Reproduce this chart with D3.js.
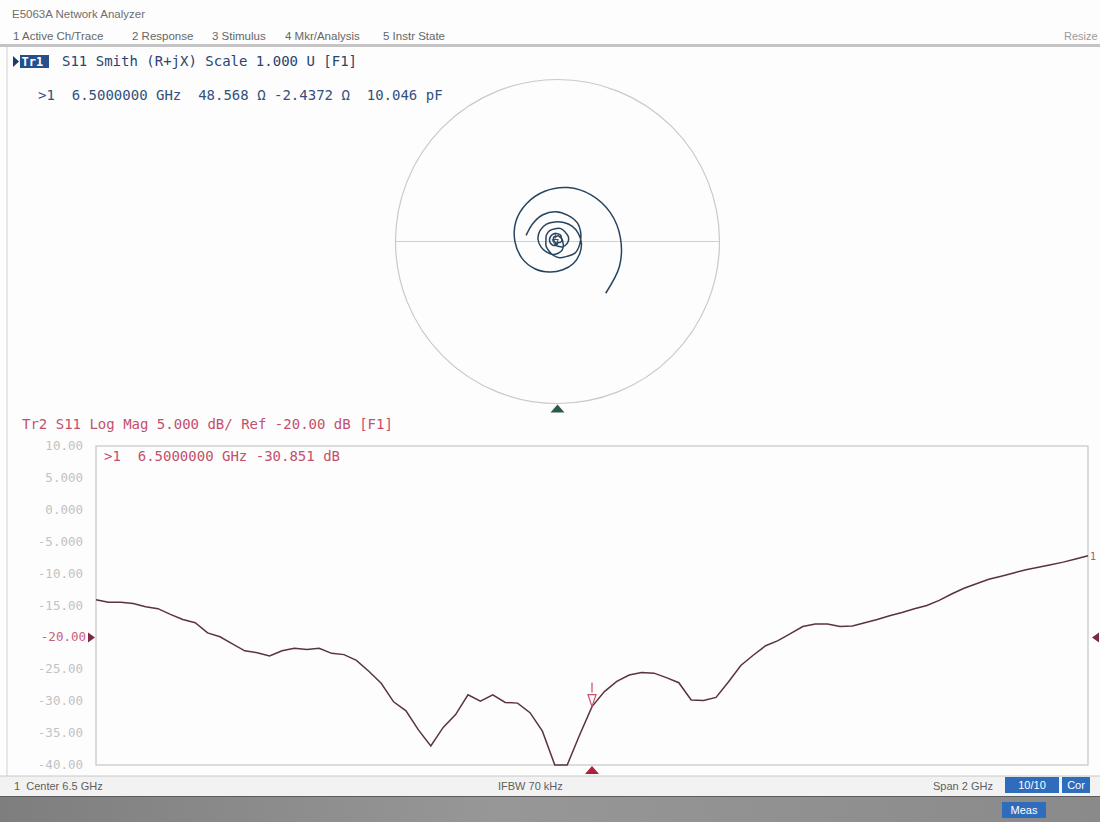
<!DOCTYPE html>
<html>
<head>
<meta charset="utf-8">
<script src="https://cdn.jsdelivr.net/npm/d3@7"></script>
<style>
body{margin:0;background:#fff;}
svg{display:block;}
text{white-space:pre;}
.mono{font-family:"DejaVu Sans Mono",monospace;}
.sans{font-family:"Liberation Sans",Arial,sans-serif;}
</style>
</head>
<body>
<div id="container"></div>
<script>
// sweep points, GHz (center 6.5, span 2)
var freqGHz = [5.500,5.525,5.550,5.575,5.600,5.625,5.650,5.675,5.700,5.725,
	5.750,5.775,5.800,5.825,5.850,5.875,5.900,5.925,5.950,5.975,
	6.000,6.025,6.050,6.075,6.100,6.125,6.150,6.175,6.200,6.225,
	6.250,6.275,6.300,6.325,6.350,6.375,6.400,6.425,6.450,6.475,
	6.500,6.525,6.550,6.575,6.600,6.625,6.650,6.675,6.700,6.725,
	6.750,6.775,6.800,6.825,6.850,6.875,6.900,6.925,6.950,6.975,
	7.000,7.025,7.050,7.075,7.100,7.125,7.150,7.175,7.200,7.225,
	7.250,7.275,7.300,7.325,7.350,7.375,7.400,7.425,7.450,7.475,7.500];

// S11 log mag (dB)
var s11LogMag = [-14.1,-14.5,-14.5,-14.7,-15.2,-15.5,-16.4,-17.2,-17.7,-19.3,
	-19.9,-21.0,-22.1,-22.4,-22.9,-22.1,-21.7,-21.9,-21.7,-22.5,
	-22.7,-23.6,-25.3,-27.2,-30.1,-31.5,-34.5,-37.0,-34.1,-32.1,
	-29.0,-30.0,-29.0,-30.2,-30.3,-31.8,-34.7,-40.5,-44.0,-35.3,
	-30.85,-28.5,-26.9,-25.9,-25.5,-25.6,-26.3,-27.1,-29.8,-29.9,
	-29.4,-27.0,-24.4,-22.8,-21.3,-20.5,-19.4,-18.3,-17.9,-17.9,
	-18.3,-18.2,-17.7,-17.2,-16.6,-16.1,-15.5,-15.0,-14.2,-13.2,
	-12.3,-11.6,-10.9,-10.4,-9.9,-9.4,-9.0,-8.6,-8.2,-7.7,-7.2];

// S11 phase (deg)
var s11PhaseDeg = [169.0,143.8,118.6,93.4,68.2,43.0,17.8,-7.4,-32.6,-57.8,
	-83.0,-108.2,-133.4,-158.6,176.2,151.0,125.8,100.6,75.4,50.2,
	25.0,-0.2,-25.4,-50.6,-75.8,-101.0,-126.2,-151.4,-176.6,158.2,
	133.0,107.8,82.6,57.4,32.2,7.0,-18.2,-43.4,-68.6,-93.8,
	-119.0,-144.2,-169.4,165.4,140.2,115.0,89.8,64.6,39.4,14.2,
	-11.0,-36.2,-61.4,-86.6,-111.8,-137.0,-162.2,172.6,147.4,122.2,
	97.0,71.8,46.6,21.4,-3.8,-29.0,-54.2,-79.4,-104.6,-129.8,
	-155.0,179.8,154.6,129.4,104.2,79.0,53.8,28.6,3.4,-21.8,-47.0];

var magTicks = [10,5,0,-5,-10,-15,-20,-25,-30,-35,-40];
var magTickLabels = ['10.00','5.000','0.000','-5.000','-10.00','-15.00','-20.00','-25.00','-30.00','-35.00','-40.00'];
var refLevel = -20;

var menuItems = ['1 Active Ch/Trace','2 Response','3 Stimulus','4 Mkr/Analysis','5 Instr State'];
var menuX = [13,132,212,285,383];

var markerFreq = 6.5;
var smithMarkerText = '>1  6.5000000 GHz  48.568 Ω -2.4372 Ω  10.046 pF';
var logMarkerText = '>1  6.5000000 GHz -30.851 dB';

var init = function(){

	return {

		w:1100,
		h:822,

		pts:[],

		processData:function(){
			var self = vis;
			freqGHz.forEach(function(f,i){
				var lin = Math.pow(10, s11LogMag[i]/20),
					ph = s11PhaseDeg[i]*Math.PI/180;
				self.pts.push({f:f, db:s11LogMag[i], re:lin*Math.cos(ph), im:lin*Math.sin(ph)});
			});
			self.generate();
		},
		generate:function(){
			var self = vis;
			self.svg = d3.select('#container').append('svg')
				.attr('width',self.w)
				.attr('height',self.h);
			self.svg.append('rect').attr('width',self.w).attr('height',self.h).attr('fill','#fdfdfd');

			self.drawFrame();
			self.drawSmith();
			self.drawLogMag();
			self.drawStatus();
		},
		drawFrame:function(){
			var svg = vis.svg;

			svg.append('text').attr('class','sans')
				.attr('x',12).attr('y',18)
				.style('font-size','11.5px').attr('fill','#6e6e6e')
				.text('E5063A Network Analyzer');

			svg.selectAll('text.menu')
				.data(menuItems)
				.enter().append('text')
				.attr('class','menu sans')
				.attr('x',function(d,i){ return menuX[i]; })
				.attr('y',40)
				.style('font-size','11.5px')
				.attr('fill','#666')
				.text(function(d){ return d; });

			svg.append('text').attr('class','sans')
				.attr('x',1064).attr('y',40)
				.style('font-size','11px').attr('fill','#9a9a9a')
				.text('Resize');

			svg.append('rect').attr('x',0).attr('y',44).attr('width',vis.w).attr('height',3).attr('fill','#c4c4c4');
			svg.append('line').attr('x1',7).attr('x2',7).attr('y1',47).attr('y2',776)
				.attr('stroke','#d2d2d2');
		},
		drawSmith:function(){
			var svg = vis.svg;
			var cx = 557.5, cy = 241.5, r = 162;

			var x = d3.scaleLinear().domain([-1,1]).range([cx-r, cx+r]),
				y = d3.scaleLinear().domain([-1,1]).range([cy+r, cy-r]);

			// title
			svg.append('path').attr('d','M13,56 L19,61.5 L13,67 Z').attr('fill','#1f3a6a');
			svg.append('rect').attr('x',20).attr('y',55).attr('width',29).attr('height',13).attr('fill','#24508e');
			svg.append('text').attr('class','mono').attr('x',21.5).attr('y',66)
				.style('font-size','12px').style('font-weight','bold').attr('fill','#fff').text('Tr1');
			svg.append('text').attr('class','mono').attr('x',62).attr('y',66)
				.style('font-size','14px').attr('fill','#2a4470')
				.text('S11 Smith (R+jX) Scale 1.000 U [F1]');
			svg.append('text').attr('class','mono').attr('x',38).attr('y',100)
				.style('font-size','14px').attr('fill','#34507e')
				.text(smithMarkerText);

			// unit circle + real axis
			svg.append('circle').attr('cx',x(0)).attr('cy',y(0)).attr('r',x(1)-x(0))
				.attr('fill','none').attr('stroke','#c9c9c9').attr('stroke-width',1.2);
			svg.append('line').attr('x1',x(-1)).attr('x2',x(1)).attr('y1',y(0)).attr('y2',y(0))
				.attr('stroke','#cfcfcf').attr('stroke-width',1.2);

			var line = d3.line()
				.x(function(d){ return x(d.re); })
				.y(function(d){ return y(d.im); })
				.curve(d3.curveCatmullRom.alpha(0.5));

			svg.append('path').datum(vis.pts)
				.attr('d',line)
				.attr('fill','none')
				.attr('stroke','#27455f')
				.attr('stroke-width',1.5);

			// marker 1
			var m = vis.pts[freqGHz.indexOf(markerFreq)];
			var mx = x(m.re), my = y(m.im);
			svg.append('path').attr('d','M'+mx+','+my+' l-3,-6 l6,0 Z')
				.attr('fill','none').attr('stroke','#27455f').attr('stroke-width',1);
			svg.append('line').attr('x1',mx).attr('x2',mx).attr('y1',my-13).attr('y2',my-7)
				.attr('stroke','#27455f');

			// stimulus pointer
			svg.append('path').attr('d','M'+x(0)+','+(y(-1)+1)+' l-7,8 l14,0 Z').attr('fill','#2c5a4c');
		},
		drawLogMag:function(){
			var svg = vis.svg;
			var left = 96, right = 1088, top = 446, bottom = 765;

			var x = d3.scaleLinear().domain([freqGHz[0], freqGHz[freqGHz.length-1]]).range([left,right]),
				y = d3.scaleLinear().domain([-40,10]).range([bottom,top]).clamp(true);

			svg.append('text').attr('class','mono').attr('x',22).attr('y',429)
				.style('font-size','14px').attr('fill','#c4506c')
				.text('Tr2 S11 Log Mag 5.000 dB/ Ref -20.00 dB [F1]');

			svg.append('rect').attr('x',left).attr('y',top)
				.attr('width',right-left).attr('height',bottom-top)
				.attr('fill','none').attr('stroke','#c6c6c6').attr('stroke-width',1.2);

			svg.append('text').attr('class','mono').attr('x',104).attr('y',461)
				.style('font-size','14px').attr('fill','#c4506c')
				.text(logMarkerText);

			var labels = svg.selectAll('text.ylab')
				.data(magTicks);
			labels.enter().append('text')
				.attr('class','ylab mono')
				.attr('x',function(d){ return d===refLevel ? 86 : 83; })
				.attr('y',function(d){ return y(d)+4; })
				.attr('text-anchor','end')
				.style('font-size','12.5px')
				.attr('fill',function(d){ return d===refLevel ? '#c8607c' : '#c2c2c2'; })
				.text(function(d,i){ return magTickLabels[i]; });

			// reference pointers
			var ry = y(refLevel);
			svg.append('path').attr('d','M88,'+(ry-5)+' l7,5 l-7,5 Z').attr('fill','#7a2a45');
			svg.append('path').attr('d','M1099,'+(ry-5)+' l-7,5 l7,5 Z').attr('fill','#7a2a45');

			var line = d3.line()
				.x(function(d){ return x(d.f); })
				.y(function(d){ return y(d.db); });

			svg.append('path').datum(vis.pts)
				.attr('d',line)
				.attr('fill','none')
				.attr('stroke','#5a3340')
				.attr('stroke-width',1.5);

			// marker 1
			var m = vis.pts[freqGHz.indexOf(markerFreq)];
			var mx = x(m.f), my = y(m.db);
			svg.append('path').attr('d','M'+mx+','+my+' l-4,-12 l8,0 Z')
				.attr('fill','none').attr('stroke','#c4506c').attr('stroke-width',1.2);
			svg.append('line').attr('x1',mx).attr('x2',mx).attr('y1',my-24).attr('y2',my-14)
				.attr('stroke','#c4506c').attr('stroke-width',1.2);

			// stimulus pointer
			svg.append('path').attr('d','M'+x(markerFreq)+','+(bottom+1)+' l-7,8 l14,0 Z').attr('fill','#b0203c');

			// trace end tag
			var last = vis.pts[vis.pts.length-1];
			svg.append('text').attr('class','mono')
				.attr('x',right+2).attr('y',y(last.db)+4)
				.style('font-size','10px').attr('fill','#c4506c').text('1');
		},
		drawStatus:function(){
			var svg = vis.svg;

			svg.append('rect').attr('x',0).attr('y',776).attr('width',vis.w).attr('height',20).attr('fill','#f2f2f2');
			svg.append('line').attr('x1',0).attr('x2',vis.w).attr('y1',776).attr('y2',776).attr('stroke','#c8c8c8');

			var items = [['1  Center 6.5 GHz',14],['IFBW 70 kHz',498],['Span 2 GHz',933]];
			svg.selectAll('text.stat')
				.data(items)
				.enter().append('text')
				.attr('class','stat sans')
				.attr('x',function(d){ return d[1]; })
				.attr('y',790)
				.style('font-size','11px')
				.attr('fill','#5e5e5e')
				.text(function(d){ return d[0]; });

			var btns = [['10/10',1005,54,777],['Cor',1062,28,777],['Meas',1002,44,802]];
			var g = svg.selectAll('g.btn')
				.data(btns)
				.enter().append('g').attr('class','btn');

			var grad = svg.append('defs').append('linearGradient').attr('id','band');
			grad.append('stop').attr('offset','0%').attr('stop-color','#7e7e7e');
			grad.append('stop').attr('offset','45%').attr('stop-color','#979797');
			grad.append('stop').attr('offset','100%').attr('stop-color','#8a8a8a');
			svg.insert('rect','g.btn').attr('x',0).attr('y',796).attr('width',vis.w).attr('height',26).attr('fill','url(#band)');
			svg.insert('line','g.btn').attr('x1',0).attr('x2',vis.w).attr('y1',796.5).attr('y2',796.5).attr('stroke','#5c5c5c');

			g.append('rect')
				.attr('x',function(d){ return d[1]; })
				.attr('y',function(d){ return d[3]; })
				.attr('width',function(d){ return d[2]; })
				.attr('height',16)
				.attr('fill','#2f6cbc');
			g.append('text')
				.attr('class','sans')
				.attr('x',function(d){ return d[1]+d[2]/2; })
				.attr('y',function(d){ return d[3]+12; })
				.attr('text-anchor','middle')
				.style('font-size','11px')
				.attr('fill','#fff')
				.text(function(d){ return d[0]; });
		}
	}
}

var vis = init();
vis.processData();
</script>
</body>
</html>
